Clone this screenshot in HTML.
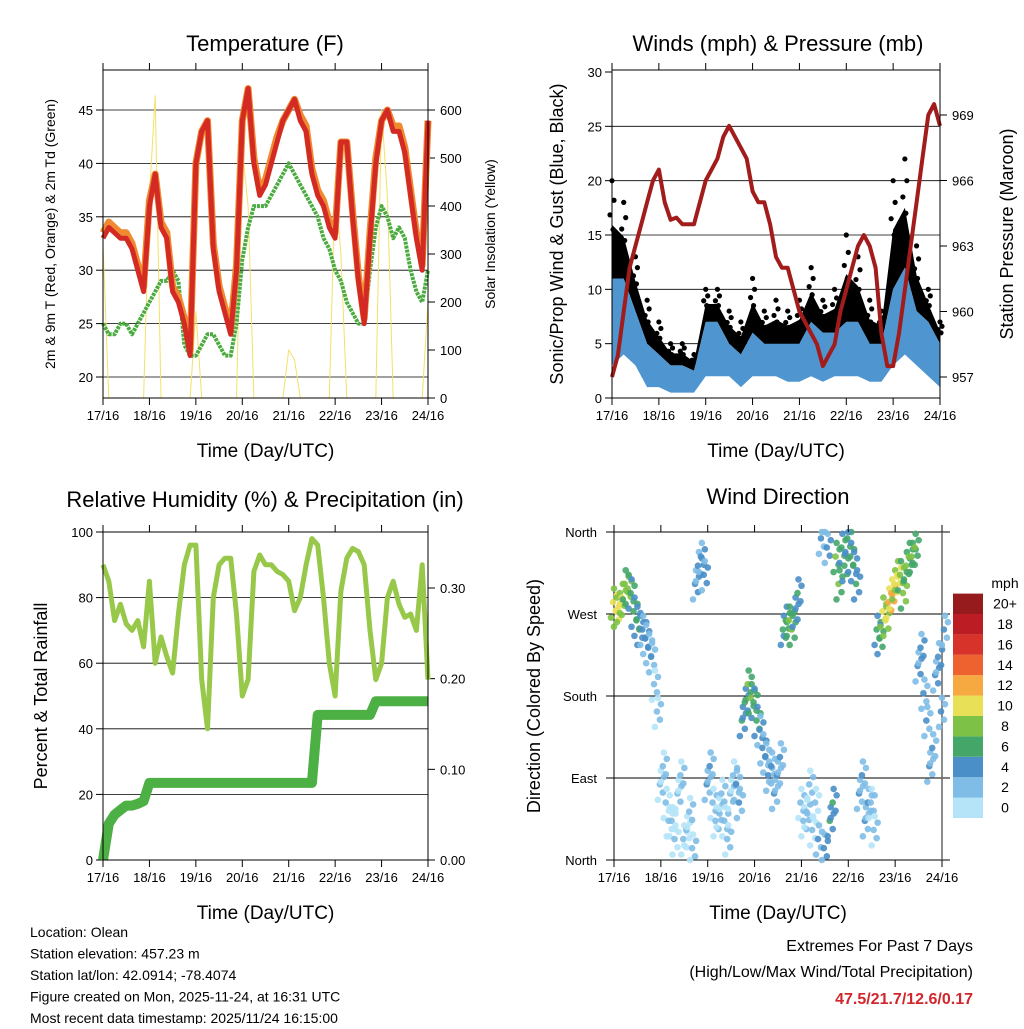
<!DOCTYPE html>
<html><head><meta charset="utf-8"><style>
body{margin:0;background:#fff;}
svg text{font-family:"Liberation Sans",sans-serif;}
</style></head><body>
<svg id="c" width="1024" height="1024" xmlns="http://www.w3.org/2000/svg"></svg>
<script>
const xLabels=["17/16","18/16","19/16","20/16","21/16","22/16","23/16","24/16"];
const hours3=[0,3,6,9,12,15,18,21,24,27,30,33,36,39,42,45,48,51,54,57,60,63,66,69,72,75,78,81,84,87,90,93,96,99,102,105,108,111,114,117,120,123,126,129,132,135,138,141,144,147,150,153,156,159,162,165,168];
const hours6=[0,6,12,18,24,30,36,42,48,54,60,66,72,78,84,90,96,102,108,114,120,126,132,138,144,150,156,162,168];
const tempRed=[33,34,33.5,33,33,32,30,28,36,39,34,33,28,27,25,22,40,43,44,32,28,26,24,30,44,47,40,37,38,40,42,44,45,46,44,43,39,37,36,34,33,42,42,35,29,25,33,40,44,45,43,43,41,37,33,30,44];
const tempOrange=[33.5,34.5,34,33.5,33.5,32.5,30.5,28.5,36.5,39,34.5,33.5,28.5,27.5,25.5,22.5,40,43,44,32.5,28.5,26.5,24.5,30.5,44,47,40.5,37.5,38.5,40.5,42.5,44,45,46,44.5,43.5,39.5,37.5,36.5,34.5,33.5,42,42,35.5,29.5,25.5,33.5,40.5,44,45,43.5,43.5,41.5,37.5,33.5,30.5,44];
const dewGreen=[25,24,24,25,25,24,25,26,27,28,29,29,30,29,23,22,22,23,24,24,23,22,22,25,31,34,36,36,36,37,38,39,40,39,38,37,36,35,33,32,30,29,27,26,25,25,30,34,36,35,33,34,33,30,28,27,30];
const solar=[320,0,0,0,0,0,0,0,420,630,0,0,0,0,0,0,180,0,0,0,0,0,0,0,520,400,0,0,0,0,0,0,100,80,0,0,0,0,0,0,450,300,0,0,0,0,0,0,600,420,0,0,0,0,0,0,200];
const pressure=[957,958,960,962,963,964,965,966,966.5,965,964.2,964.3,964,964,964,965,966,966.5,967,968,968.5,968,967.5,967,965.5,965,965,964,962.5,962,962,961,960,959.5,959,958.5,957.5,958,958.5,960,961,962,963,963.5,963,962,959,957.5,957.5,959,961,963,965,967,969,969.5,968.5];
const gustHi=[20,18,13,9,7,5,5,4,10,10,8,7,11,8,9,8,9,12,9,10,15,13,9,8,20,22,14,10,7];
const speedHi=[11,11,8,5,4,3,3,2.5,7,7,5,4,6,5,5,5,5,7,6,6,7,7,5,5,10,12,8,7,5];
const speedLo=[3,4,3,1,1,0.5,0.5,0.5,2,2,2,1,2,2,2,1.5,1.5,2,1.5,2,2,2,1.5,1.5,3,4,3,2,1];
const rh=[90,85,73,78,72,70,73,65,85,60,68,62,57,75,90,96,96,55,40,80,90,92,92,75,50,55,88,93,90,90,88,87,85,76,80,90,98,96,80,60,50,82,92,95,94,90,70,55,60,80,85,78,74,75,70,90,55];
const precip=[0,0.04,0.05,0.055,0.06,0.06,0.062,0.065,0.085,0.085,0.085,0.085,0.085,0.085,0.085,0.085,0.085,0.085,0.085,0.085,0.085,0.085,0.085,0.085,0.085,0.085,0.085,0.085,0.085,0.085,0.085,0.085,0.085,0.085,0.085,0.085,0.085,0.16,0.16,0.16,0.16,0.16,0.16,0.16,0.16,0.16,0.16,0.175,0.175,0.175,0.175,0.175,0.175,0.175,0.175,0.175,0.175];
const windDir=[280,275,300,290,260,250,230,190,80,60,40,70,20,50,300,330,80,60,50,40,70,80,150,190,170,140,110,100,90,250,260,270,60,50,30,20,10,40,330,340,350,320,70,40,60,250,270,280,300,310,320,330,210,180,100,200,160];
const windDir2=[270,285,295,270,250,240,220,160,100,40,20,90,30,10,320,310,100,40,70,20,90,60,170,175,150,120,90,70,110,260,250,290,40,80,60,350,340,60,300,320,330,300,90,60,30,240,260,290,310,290,330,340,230,150,120,220,250];
const windSpd=[10,9,8,6,5,4,3,2,2,1,1,2,1,2,4,4,3,2,2,2,2,3,5,7,6,4,3,3,3,6,7,5,2,2,1,3,4,5,7,6,6,5,3,3,2,6,9,12,10,8,7,7,4,3,3,4,3];
const colorTicks=["0","2","4","6","8","10","12","14","16","18","20+"];
const colorVals=["#b5e4f8","#7fbde6","#4a8fc8","#45a66a","#7dc246","#e8e057","#f6a941","#ee6230","#d8332b","#bc1d24","#961b1d"];

const svg=document.getElementById('c');
const NS="http://www.w3.org/2000/svg";
function el(tag,attrs,parent){const e=document.createElementNS(NS,tag);for(const k in attrs)e.setAttribute(k,attrs[k]);(parent||svg).appendChild(e);return e;}
function txt(x,y,s,size,anchor,parent,extra){const t=el('text',Object.assign({x:x,y:y,'font-size':size,'text-anchor':anchor||'middle'},extra||{}),parent);t.textContent=s;return t;}
function panel(name,x0,x1,y0,y1){const g=el('g',{});return {g,x0,x1,y0,y1,sx:h=>x0+h*(x1-x0)/168};}
function lin(d0,d1,p0,p1){return v=>p0+(v-d0)*(p1-p0)/(d1-d0);}
function xAxis(P,title){
  const a=el('g',{},P.g);
  xLabels.forEach((l,i)=>{const x=P.sx(i*24);el('line',{x1:x,x2:x,y1:P.y1,y2:P.y1+7,stroke:'#000'},a);el('line',{x1:x,x2:x,y1:P.y0,y2:P.y0-7,stroke:'#000'},a);txt(x,P.y1+22,l,13,'middle',a);});
  const t=txt((P.x0+P.x1)/2,P.y1+59,title,19,'middle',P.g);
}
function yTicks(P,ticks,fy,side,grid,fmt){
  const a=el('g',{},P.g);
  ticks.forEach(v=>{const y=fy(v);
    if(side==='left'){el('line',{x1:P.x0-7,x2:P.x0,y1:y,y2:y,stroke:'#000'},a);txt(P.x0-10,y+5,fmt?fmt(v):v,13,'end',a);if(grid)el('line',{x1:P.x0,x2:P.x1,y1:y,y2:y,stroke:'#000','stroke-width':0.8},a);}
    else{el('line',{x1:P.x1,x2:P.x1+7,y1:y,y2:y,stroke:'#000'},a);txt(P.x1+12,y+5,fmt?fmt(v):v,13,'start',a);}
  });
}
function frame(P){el('rect',{x:P.x0,y:P.y0,width:P.x1-P.x0,height:P.y1-P.y0,fill:'none',stroke:'#000','stroke-width':1},P.g);}
function poly(P,hrs,vals,fy,attrs){let d='',pen=false;hrs.forEach((h,i)=>{const v=vals[i];if(v===null){pen=false;return;}d+=(pen?'L':'M')+P.sx(h).toFixed(1)+','+fy(v).toFixed(1);pen=true;});return el('path',Object.assign({d:d,fill:'none','stroke-linejoin':'round'},attrs),P.g);}
function band(P,hrs,lo,hi,fy,fill){let d='';hrs.forEach((h,i)=>{d+=(i?'L':'M')+P.sx(h).toFixed(1)+','+fy(hi[i]).toFixed(1);});for(let i=hrs.length-1;i>=0;i--)d+='L'+P.sx(hrs[i]).toFixed(1)+','+fy(lo[i]).toFixed(1);return el('path',{d:d+'Z',fill:fill},P.g);}
function ylab(x,y,s,size,parent,name){const t=txt(x,y,s,size,'middle',parent,{transform:`rotate(-90 ${x} ${y})`});return t;}

// Temperature
let P=panel('temperature-panel',103,428,70,398);
let fy=lin(20,45,377,110), fs=lin(0,600,398,110);
yTicks(P,[20,25,30,35,40,45],fy,'left',true);
yTicks(P,[0,100,200,300,400,500,600],fs,'right');
let s=poly(P,hours3,solar,fs,{stroke:'#f3e068','stroke-width':1});
s=poly(P,hours3,dewGreen,fy,{stroke:'#4aab3e','stroke-width':4,'stroke-dasharray':'3 1'});
s=poly(P,hours3,tempOrange,fy,{stroke:'#f08a30','stroke-width':7});
s=poly(P,hours3,tempRed,fy,{stroke:'#d42a24','stroke-width':5});
frame(P);xAxis(P,'Time (Day/UTC)');
s=txt(265,51,'Temperature (F)',22,'middle',P.g);
ylab(55,234,'2m & 9m T (Red, Orange) & 2m Td (Green)',14,P.g,'temperature-y-title');
ylab(495,234,'Solar Insolation (Yellow)',14,P.g,'solar-y-title');

// Winds
P=panel('winds-panel',612,940,70,398);
fy=lin(0,30,398,72); let fp=lin(957,969,377,115);
yTicks(P,[0,5,10,15,20,25,30],fy,'left',false);
[5,10,15,20,25].forEach(v=>el('line',{x1:612,x2:940,y1:fy(v),y2:fy(v),stroke:'#000','stroke-width':0.8},P.g));
yTicks(P,[957,960,963,966,969],fp,'right');
const gustMid=gustHi.map((g,i)=>speedHi[i]+(g-speedHi[i])*0.55);
s=band(P,hours6,speedHi,gustMid,fy,'#000');
hours6.forEach((h,i)=>{[[0,1],[2,0.8],[-2,0.65],[1,0.5]].forEach(([dx,f])=>{const v=speedHi[i]+(gustHi[i]-speedHi[i])*f;const c=el('circle',{cx:P.sx(h)+dx,cy:fy(v),r:2.6,fill:'#000'},P.g);});});
s=band(P,hours6,speedLo,speedHi,fy,'#4f95d0');
s=poly(P,hours3,pressure,fp,{stroke:'#a21c1c','stroke-width':4});
frame(P);xAxis(P,'Time (Day/UTC)');
s=txt(778,51,'Winds (mph) & Pressure (mb)',22,'middle',P.g);
ylab(563,234,'Sonic/Prop Wind & Gust (Blue, Black)',18,P.g,'winds-y-title');
ylab(1013,234,'Station Pressure (Maroon)',18,P.g,'pressure-y-title');

// RH & precip
P=panel('humidity-panel',103,428,532,860);
fy=lin(0,100,860,532); let fr=lin(0,0.3,860,588);
yTicks(P,[0,20,40,60,80,100],fy,'left',false);
[20,40,60,80].forEach(v=>el('line',{x1:103,x2:428,y1:fy(v),y2:fy(v),stroke:'#000','stroke-width':0.8},P.g));
yTicks(P,[0,0.1,0.2,0.3],fr,'right',false,v=>v.toFixed(2));
s=poly(P,hours3,rh,fy,{stroke:'#97c84a','stroke-width':5});
s=poly(P,hours3,precip,fr,{stroke:'#4cb044','stroke-width':10});
frame(P);xAxis(P,'Time (Day/UTC)');
s=txt(265,507,'Relative Humidity (%) & Precipitation (in)',22,'middle',P.g);
ylab(47,696,'Percent & Total Rainfall',18,P.g,'humidity-y-title');

// Wind direction
P=panel('wind-direction-panel',614,942,532,860);
let fd=lin(0,360,860,532);
const dirLabels=[["North",0],["East",90],["South",180],["West",270],["North",360]];
dirLabels.forEach(([l,v])=>{const y=fd(v);el('line',{x1:606,x2:950,y1:y,y2:y,stroke:'#000','stroke-width':0.9},P.g);txt(597,y+5,l,13,'end',P.g);});
el('line',{x1:614,x2:614,y1:532,y2:860,stroke:'#000'},P.g);el('line',{x1:942,x2:942,y1:532,y2:860,stroke:'#666','stroke-width':1.5},P.g);
function spdColor(v){return colorVals[Math.max(0,Math.min(10,Math.floor(v/2)))];}
const jit=[[-3,-14,-1],[2,-6,0],[-1,3,1],[3,11,0],[0,18,-1]];
hours3.forEach((h,i)=>{[[windDir,0],[windDir2,1.5]].forEach(([arr,off])=>{
  jit.forEach(([dx,dd,ds])=>{const c=el('circle',{cx:P.sx(h+off)+dx,cy:fd(Math.max(0,Math.min(360,arr[i]+dd))),r:3.3,fill:spdColor(windSpd[i]+ds),opacity:0.9},P.g);
  });});});
xAxis(P,'Time (Day/UTC)');
s=txt(778,504,'Wind Direction',22,'middle',P.g);
ylab(540,696,'Direction (Colored By Speed)',18,P.g,'wind-direction-y-title');
const cb=el('g',{});
txt(1005,588,'mph',14,'middle',cb);
colorVals.forEach((c,i)=>{const y=818-(i+1)*20.4;el('rect',{x:953,y:y,width:30,height:20.4,fill:c},cb);txt(1005,y+15,colorTicks[i],14,'middle',cb);});

// footer
const f=el('g',{});
["Location: Olean","Station elevation: 457.23 m","Station lat/lon: 42.0914; -78.4074","Figure created on Mon, 2025-11-24, at 16:31 UTC","Most recent data timestamp: 2025/11/24 16:15:00"].forEach((l,i)=>txt(30,937+i*21.5,l,14,'start',f));
const e=el('g',{});
txt(973,951,'Extremes For Past 7 Days',16,'end',e);
txt(973,977,'(High/Low/Max Wind/Total Precipitation)',16,'end',e);
txt(973,1004,'47.5/21.7/12.6/0.17',16,'end',e,{fill:'#d0262c','font-weight':'bold'});
</script>
</body></html>
